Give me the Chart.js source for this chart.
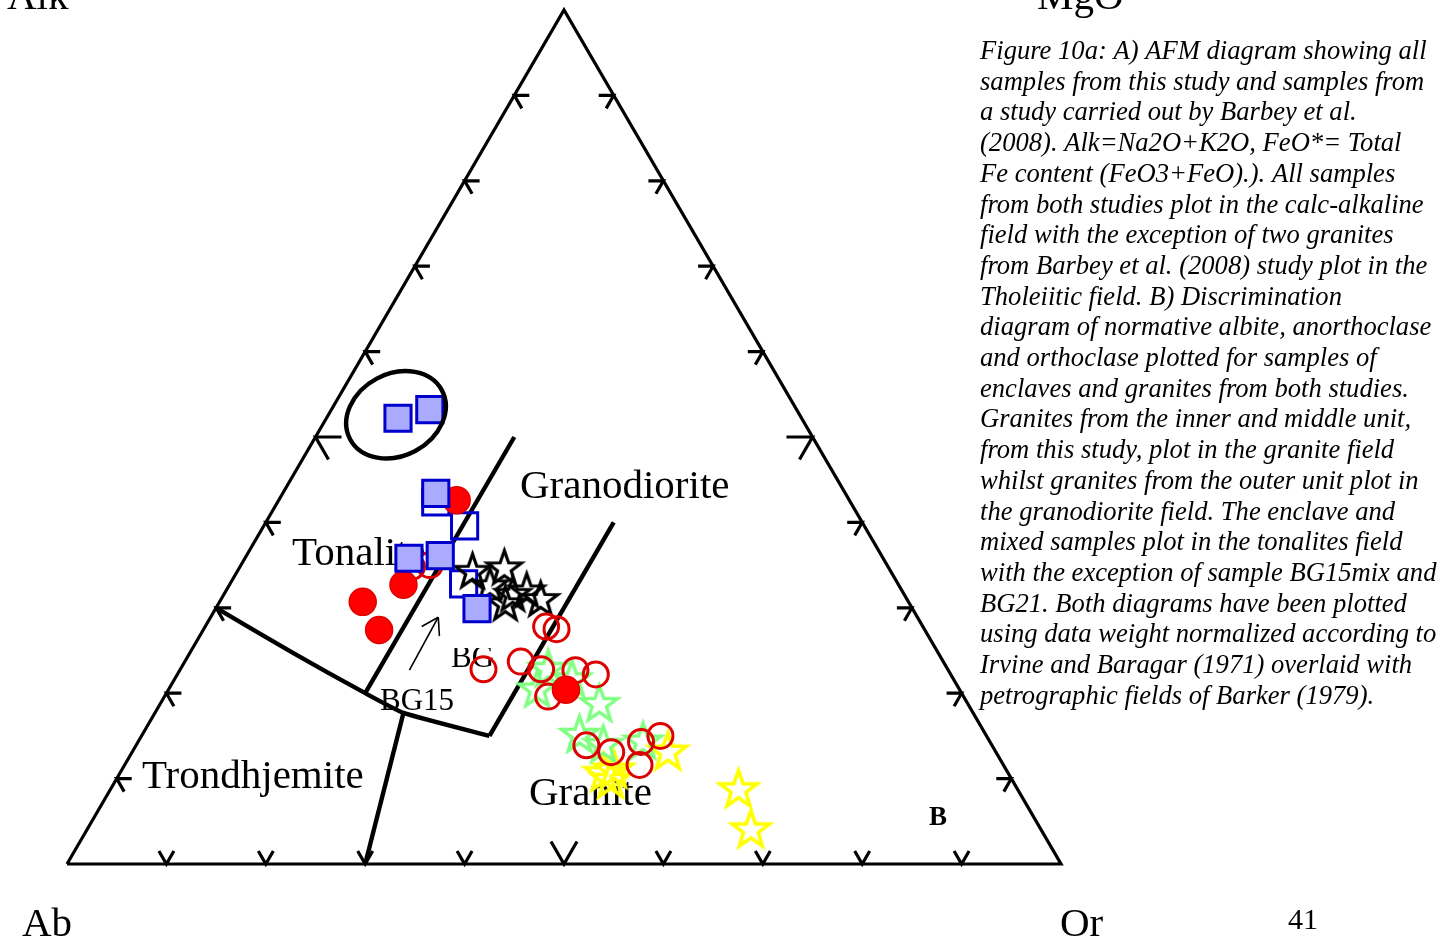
<!DOCTYPE html>
<html>
<head>
<meta charset="utf-8">
<script src="https://cdn.jsdelivr.net/npm/chart.js@4.4.0/dist/chart.umd.min.js"></script>
<style>
  html, body { margin: 0; padding: 0; background: #fff; overflow: hidden; }
  #wrap { position: relative; width: 1442px; height: 939px; }
  canvas { display: block; }
</style>
</head>
<body>
<div id="wrap"><canvas id="c" width="1442" height="939"></canvas></div>
<script>
// ---- Data: normative An and Or (%) for each sample group; Ab = 100 - An - Or ----
const filledSquareAn = [52.2, 53.2, 43.4, 35.8, 36.1, 29.9];
const filledSquareOr = [7.2, 9.9, 15.4, 16.5, 19.5, 26.3];

const openSquareAn = [42.4, 39.6, 32.8];
const openSquareOr = [15.9, 20.2, 23.5];

const filledCircleAn = [42.6, 32.7, 30.7, 27.4, 20.4];
const filledCircleOr = [17.9, 17.5, 14.4, 17.7, 40.0];

const openCircleAn = [34.8, 35.0, 27.8, 27.5, 23.7, 22.8, 22.7, 22.2, 19.6, 13.9, 13.1, 14.3, 15.0, 11.6, 22.8];
const openCircleOr = [17.3, 19.0, 34.3, 35.5, 33.8, 36.3, 39.8, 42.1, 38.6, 45.3, 48.2, 50.6, 52.2, 51.8, 30.5];

const blackStarAn = [34.4, 34.8, 32.7, 31.7, 32.1, 31.1, 30.6];
const blackStarOr = [23.6, 26.6, 26.2, 29.0, 30.2, 32.1, 28.8];

const greenStarAn = [20.6, 23.0, 21.8, 18.9, 15.3, 14.1, 14.5];
const greenStarOr = [37.0, 36.9, 39.9, 44.1, 43.9, 46.9, 50.7];

const yellowStarAn = [13.3, 8.9, 4.2, 10.8, 11.2, 10.0];
const yellowStarOr = [53.8, 63.1, 66.7, 48.6, 49.4, 49.7];

// ---- Barker (1979) field boundaries, as [An, Or] vertices ----
const boundaryLower = [[30, 0], [24.8, 10.2], [20, 20], [17.7, 25], [15, 35]];
const boundaryTonalite = [[20, 20], [50, 20]];
const boundaryGranite = [[15, 35], [40, 35]];
const boundaryTrondhjemite = [[17.7, 25], [0, 30]];

// Triangle frame: Ab, Or, An apexes
const frameVertices = [[0, 0], [0, 100], [100, 0], [0, 0]];

// Tick positions along each side (%)
const sideTicks = [10, 20, 30, 40, 50, 60, 70, 80, 90];

// Annotation arrow pointing to sample BG15 (tail, head) and circled group centre
const arrowTail = [22.7, 23.1];
const arrowHead = [28.9, 22.9];
const circledCentre = [52.6, 6.8];

const fieldNames = ['Tonalite', 'Granodiorite', 'Trondhjemite', 'Granite'];
const apexNames = ['Alk', 'MgO', 'Ab', 'Or'];

const captionLines = [
  'Figure 10a: A) AFM diagram showing all',
  'samples from this study and samples from',
  'a study carried out by Barbey et al.',
  '(2008). Alk=Na2O+K2O, FeO*= Total',
  'Fe content (FeO3+FeO).). All samples',
  'from both studies plot in the calc-alkaline',
  'field with the exception of two granites',
  'from Barbey et al. (2008) study plot in the',
  'Tholeiitic field. B) Discrimination',
  'diagram of normative albite, anorthoclase',
  'and orthoclase plotted for samples of',
  'enclaves and granites from both studies.',
  'Granites from the inner and middle unit,',
  'from this study, plot in the granite field',
  'whilst granites from the outer unit plot in',
  'the granodiorite field. The enclave and',
  'mixed samples plot in the tonalites field',
  'with the exception of sample BG15mix and',
  'BG21. Both diagrams have been plotted',
  'using data weight normalized according to',
  'Irvine and Baragar (1971) overlaid with',
  'petrographic fields of Barker (1979).'
];

// ---- Ternary -> cartesian (x = Or + An/2, y = An), both as fractions ----
function tern(an, or) { return { x: (or + an / 2) / 100, y: an / 100 }; }
function series(anArr, orArr) { return anArr.map((a, i) => tern(a, orArr[i])); }
function path(list) { return list.map(p => tern(p[0], p[1])); }

// Five-pointed open star used as a point style
function starImage(color, R, lw) {
  const pad = lw + 2;
  const size = Math.ceil(2 * (R + pad));
  const cv = document.createElement('canvas');
  cv.width = size; cv.height = size;
  const g = cv.getContext('2d');
  const c = size / 2, r = R * 0.40;
  g.beginPath();
  for (let i = 0; i < 10; i++) {
    const ang = -Math.PI / 2 + i * Math.PI / 5;
    const rr = i % 2 === 0 ? R : r;
    const x = c + rr * Math.cos(ang), y = c + rr * Math.sin(ang) + R * 0.1;
    if (i === 0) g.moveTo(x, y); else g.lineTo(x, y);
  }
  g.closePath();
  g.lineJoin = 'miter';
  g.lineWidth = lw;
  g.strokeStyle = color;
  g.stroke();
  return cv;
}

const SERIF = "'Liberation Serif', 'Times New Roman', serif";

function toPx(chart, an, or) {
  const p = tern(an, or);
  return { x: chart.scales.x.getPixelForValue(p.x), y: chart.scales.y.getPixelForValue(p.y) };
}

// Side ticks, field names, annotation arrow (beneath the samples)
const underlayPlugin = {
  id: 'underlay',
  beforeDatasetsDraw(chart) {
    const ctx = chart.ctx;
    ctx.save();
    ctx.strokeStyle = '#000';
    ctx.lineWidth = 3.2;
    ctx.lineCap = 'butt';
    ctx.lineJoin = 'miter';
    const c60 = Math.cos(Math.PI / 3), s60 = Math.sin(Math.PI / 3);
    const hook = (p, d1x, d1y, d2x, d2y, L) => {
      ctx.beginPath();
      ctx.moveTo(p.x + d1x * L, p.y + d1y * L);
      ctx.lineTo(p.x, p.y);
      ctx.lineTo(p.x + d2x * L, p.y + d2y * L);
      ctx.stroke();
    };
    sideTicks.forEach(t => {
      const L = t === 50 ? 26 : 15;
      const b = toPx(chart, 0, t);          // Ab-Or side
      hook(b, -c60, -s60, c60, -s60, L);
      const l = toPx(chart, t, 0);          // Ab-An side
      hook(l, 1, 0, c60, s60, L);
      const r = toPx(chart, t, 100 - t);    // Or-An side
      hook(r, -1, 0, -c60, s60, L);
    });

    // field names
    ctx.fillStyle = '#000';
    ctx.textBaseline = 'alphabetic';
    ctx.textAlign = 'left';
    ctx.font = '41px ' + SERIF;
    ctx.fillText(fieldNames[0], 292, 565);
    ctx.fillText(fieldNames[1], 520, 498);
    ctx.fillText(fieldNames[2], 142, 788);
    ctx.fillText(fieldNames[3], 529, 805);

    // sample tags
    ctx.font = '31px ' + SERIF;
    ctx.fillText('BG15', 380, 710);
    ctx.save();
    ctx.beginPath(); ctx.rect(440, 648, 70, 30); ctx.clip();
    ctx.fillText('BG', 451, 667);
    ctx.restore();

    // thin arrow towards BG15
    const a0 = toPx(chart, arrowTail[0], arrowTail[1]);
    const a1 = toPx(chart, arrowHead[0], arrowHead[1]);
    ctx.lineWidth = 1.6;
    ctx.beginPath(); ctx.moveTo(a0.x, a0.y); ctx.lineTo(a1.x, a1.y); ctx.stroke();
    const ang = Math.atan2(a0.y - a1.y, a0.x - a1.x);
    [-0.56, 0.56].forEach(d => {
      ctx.beginPath();
      ctx.moveTo(a1.x, a1.y);
      ctx.lineTo(a1.x + 19 * Math.cos(ang + d), a1.y + 19 * Math.sin(ang + d));
      ctx.stroke();
    });
    ctx.restore();
  },
  afterDatasetsDraw(chart) {
    const ctx = chart.ctx;
    ctx.save();
    // circled group
    const c = toPx(chart, circledCentre[0], circledCentre[1]);
    ctx.strokeStyle = '#000';
    ctx.lineWidth = 4.4;
    ctx.beginPath();
    ctx.ellipse(c.x, c.y, 52, 41, -28 * Math.PI / 180, 0, Math.PI * 2);
    ctx.stroke();
    ctx.restore();
  },
  afterDraw(chart) {
    const ctx = chart.ctx;
    ctx.save();
    ctx.fillStyle = '#000';
    ctx.textAlign = 'left';
    ctx.textBaseline = 'alphabetic';
    ctx.font = '41px ' + SERIF;
    ctx.fillText(apexNames[0], 7, 9);
    ctx.fillText(apexNames[1], 1037, 9);
    ctx.fillText(apexNames[2], 22, 936);
    ctx.fillText(apexNames[3], 1060, 936);
    ctx.font = '30px ' + SERIF;
    ctx.fillText('41', 1288, 929);
    ctx.font = 'bold 27px ' + SERIF;
    ctx.fillText('B', 929, 825);

    ctx.font = 'italic 26.6px ' + SERIF;
    captionLines.forEach((line, i) => ctx.fillText(line, 980, 59 + i * 30.7));
    ctx.restore();
  }
};

const lineDs = (data, w, order) => ({
  type: 'scatter', data, showLine: true, fill: false,
  borderColor: '#000', borderWidth: w, pointRadius: 0,
  borderJoinStyle: 'miter', borderCapStyle: 'butt', tension: 0, order
});

const blackStar = starImage('#000000', 18, 3.2);
const greenStar = starImage('#80ff80', 19, 3.4);
const yellowStar = starImage('#ffff00', 19.5, 3.6);

new Chart(document.getElementById('c'), {
  type: 'scatter',
  data: {
    datasets: [
      lineDs(path(frameVertices), 3.2, 20),
      Object.assign(lineDs(path(boundaryLower), 4.4, 19), { tension: 0.15 }),
      lineDs(path(boundaryTonalite), 4.4, 19),
      lineDs(path(boundaryGranite), 4.4, 19),
      lineDs(path(boundaryTrondhjemite), 4.4, 19),
      { data: series(yellowStarAn, yellowStarOr), pointStyle: yellowStar, pointRadius: 18, order: 9 },
      { data: series(greenStarAn, greenStarOr), pointStyle: greenStar, pointRadius: 18, order: 8 },
      { data: series(openSquareAn, openSquareOr), pointStyle: 'rect', pointRadius: 18.5,
        backgroundColor: 'rgba(0,0,0,0)', borderColor: '#0000cc', borderWidth: 3, order: 7 },
      { data: series(blackStarAn, blackStarOr), pointStyle: blackStar, pointRadius: 17, order: 6 },
      { data: series(openCircleAn, openCircleOr), pointStyle: 'circle', pointRadius: 12.5,
        backgroundColor: 'rgba(0,0,0,0)', borderColor: '#dd0000', borderWidth: 3, order: 5 },
      { data: series(filledCircleAn, filledCircleOr), pointStyle: 'circle', pointRadius: 13.5,
        backgroundColor: '#ff0000', borderColor: '#e00000', borderWidth: 1.5, order: 4 },
      { data: series(filledSquareAn, filledSquareOr), pointStyle: 'rect', pointRadius: 18.5,
        backgroundColor: '#aaaaff', borderColor: '#0000cc', borderWidth: 3, order: 3 }
    ]
  },
  options: {
    responsive: false,
    animation: false,
    devicePixelRatio: 1,
    events: [],
    layout: { autoPadding: false, padding: { left: 67, right: 381, top: 10, bottom: 75 } },
    scales: {
      x: { type: 'linear', min: 0, max: 1, display: false },
      y: { type: 'linear', min: 0, max: 1, display: false }
    },
    plugins: { legend: { display: false }, tooltip: { enabled: false } },
    clip: false
  },
  plugins: [underlayPlugin]
});
</script>
</body>
</html>
